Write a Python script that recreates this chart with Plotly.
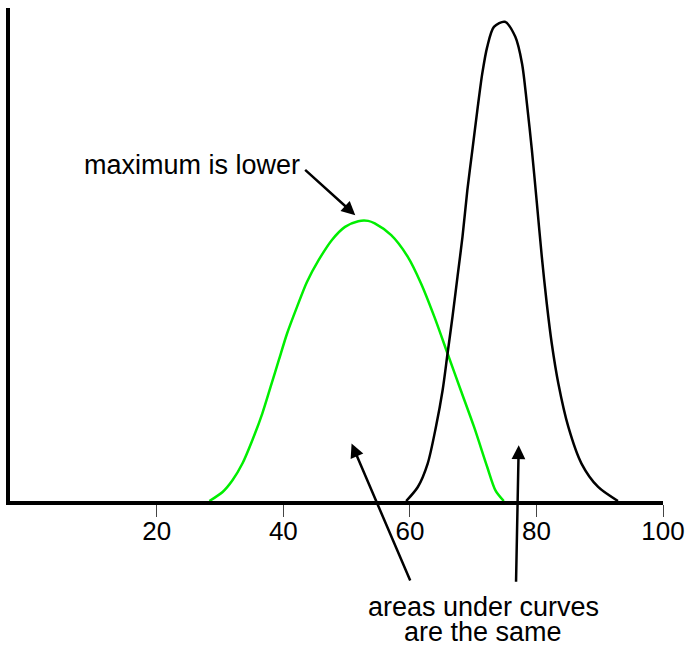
import plotly.graph_objects as go

# Narrow (black) curve
narrow_x = [59.41, 61.25, 62.81, 64.11, 65.17, 65.95, 66.73, 67.52, 68.31, 69.08,
            69.87, 70.66, 71.44, 72.22, 73.28, 75.00, 76.66, 77.72, 78.49, 79.28,
            80.07, 80.85, 81.63, 82.42, 83.46, 85.04, 87.12, 89.75, 92.88]
narrow_y = [0.0, 0.00234, 0.00625, 0.01236, 0.01849, 0.02462, 0.03073, 0.03741, 0.04409, 0.05189,
            0.05857, 0.06525, 0.07138, 0.07582, 0.07916, 0.08000, 0.07749, 0.07305, 0.06637, 0.05857,
            0.04967, 0.04075, 0.03297, 0.02629, 0.01961, 0.01236, 0.00625, 0.00234, 0.0]

# Wide (green) curve
wide_x = [28.31, 30.40, 31.96, 33.53, 35.10, 36.67, 37.98, 39.28, 40.59, 42.16,
          43.73, 45.57, 47.65, 49.75, 51.84, 53.40, 54.45, 57.05, 59.67, 61.76,
          63.87, 65.95, 68.04, 70.14, 72.22, 73.52, 74.84]
wide_y = [0.0, 0.00150, 0.00346, 0.00625, 0.01014, 0.01460, 0.01904, 0.02350, 0.02796, 0.03240,
          0.03657, 0.04020, 0.04354, 0.04576, 0.04671, 0.04676, 0.04633, 0.04437, 0.04075, 0.03631,
          0.03073, 0.02462, 0.01849, 0.01236, 0.00568, 0.00179, 0.0]

tick_vals = [20, 40, 60, 80, 100]
tick_text = ["20", "40", "60", "80", "100"]

label_top = "maximum is lower"
label_bottom_1 = "areas under curves"
label_bottom_2 = "are the same"

FONT = "Liberation Sans, Arial, Helvetica, sans-serif"

fig = go.Figure()
fig.add_trace(go.Scatter(x=wide_x, y=wide_y, mode="lines",
                         line=dict(color="#00ee00", width=2.5, shape="spline", smoothing=0.8),
                         hoverinfo="skip", showlegend=False))
fig.add_trace(go.Scatter(x=narrow_x, y=narrow_y, mode="lines",
                         line=dict(color="black", width=2.5, shape="spline", smoothing=0.8),
                         hoverinfo="skip", showlegend=False))

arrow_common = dict(showarrow=True, arrowhead=2, arrowsize=1.1, arrowwidth=2.5,
                    arrowcolor="black", xref="x", yref="y", axref="x", ayref="y", text="")

fig.add_annotation(x=51.37, y=0.04771, ax=43.21, ay=0.05551, **arrow_common)
fig.add_annotation(x=50.78, y=0.00959, ax=60.15, ay=-0.01353, **arrow_common)
fig.add_annotation(x=77.20, y=0.0093, ax=76.77, ay=-0.01374, **arrow_common)

fig.add_annotation(x=42.9, y=0.05606, xref="x", yref="y", text=label_top, showarrow=False,
                   xanchor="right", yanchor="middle", font=dict(size=27, color="black", family=FONT))
fig.add_annotation(x=71.6, y=-0.2151, xref="x", yref="paper", text=label_bottom_1, showarrow=False,
                   xanchor="center", yanchor="middle", font=dict(size=27, color="black", family=FONT))
fig.add_annotation(x=71.6, y=-0.2660, xref="x", yref="paper", text=label_bottom_2, showarrow=False,
                   xanchor="center", yanchor="middle", font=dict(size=27, color="black", family=FONT))

fig.update_layout(
    width=693, height=646,
    margin=dict(l=10, r=23, t=8, b=145, pad=0),
    paper_bgcolor="white", plot_bgcolor="white",
    font=dict(family=FONT, size=26, color="black"),
    xaxis=dict(range=[-3.2, 100], showgrid=False, zeroline=False,
               showline=True, linecolor="black", linewidth=3.5,
               tickmode="array", tickvals=tick_vals, ticktext=tick_text,
               ticks="outside", ticklen=12, tickwidth=1, tickcolor="#444",
               ticklabelstandoff=-8, ticklabeloverflow="allow",
               tickfont=dict(size=26, color="black", family=FONT)),
    yaxis=dict(range=[0, 0.0823], showgrid=False, zeroline=False,
               showline=True, linecolor="black", linewidth=3.5,
               showticklabels=False, ticks=""),
)

fig.write_html("out.html", config={"displayModeBar": False},
               post_script="document.body.style.margin='0';document.body.style.overflow='hidden';")
